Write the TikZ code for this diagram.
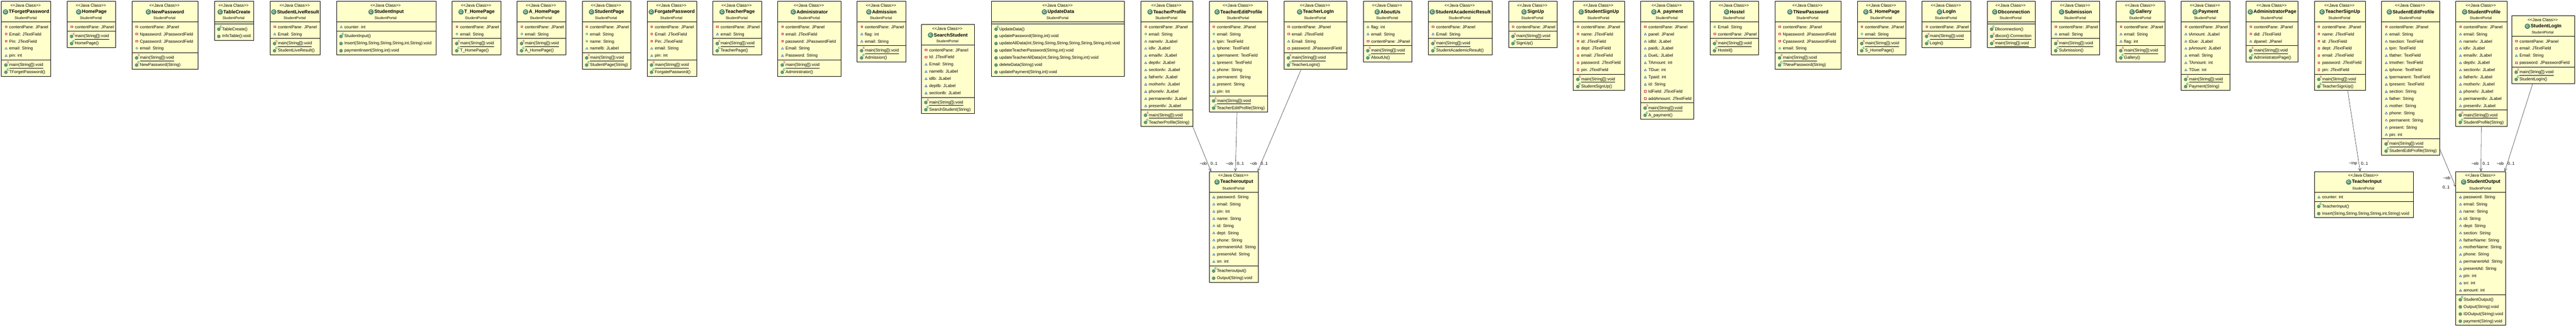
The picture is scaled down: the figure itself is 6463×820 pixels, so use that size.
\documentclass[tikz,border=0pt]{standalone}
\usepackage{fontspec}
\setmainfont{Liberation Sans}
\usetikzlibrary{shapes.geometric, arrows.meta}
\definecolor{boxyellow}{HTML}{FFFFCC}
\definecolor{icongreen}{HTML}{4F9272}
\definecolor{privred}{HTML}{C8294A}
\definecolor{packblue}{HTML}{2060A8}
\definecolor{publgreen}{HTML}{2F8F70}
\definecolor{statred}{HTML}{B8004F}
\definecolor{consgreen}{HTML}{008850}
\tikzstyle{assoc} = [draw=black!85, line width=0.7pt, -{Straight Barb[length=7.5pt,width=6.5pt]}]
\tikzstyle{classbox} = [rectangle, draw=black, line width=1pt, fill=boxyellow, anchor=north west, outer sep=0pt, inner sep=0pt]
\tikzstyle{divider} = [draw=black, line width=1pt]
\tikzstyle{stereo} = [font=\fontsize{10.5}{12}\selectfont, inner sep=0pt]
\tikzstyle{pkgname} = [font=\fontsize{9.1}{11}\selectfont, inner sep=0pt]
\tikzstyle{classtitle} = [font=\bfseries\fontsize{12}{14}\selectfont, inner sep=0pt]
\tikzstyle{classicon} = [circle, draw=icongreen!70!black, fill=icongreen, text=white, font=\bfseries\fontsize{9}{9}\selectfont, minimum size=13pt, inner sep=0pt]
\tikzstyle{rowlabel} = [font=\fontsize{10.5}{12}\selectfont, anchor=west, inner sep=0pt, text height=12pt, text depth=4pt]
\tikzstyle{edgelabel} = [font=\fontsize{10.5}{12}\selectfont, inner sep=0pt]
\tikzstyle{priv} = [rectangle, draw=privred, fill=white, line width=1pt, minimum size=4.5pt, inner sep=0pt]
\tikzstyle{pack} = [regular polygon, regular polygon sides=3, draw=packblue, fill=white, line width=0.9pt, minimum size=6.4pt, inner sep=0pt, yshift=-1pt]
\tikzstyle{publ} = [circle, draw=publgreen, fill=white, line width=1pt, minimum size=5pt, inner sep=0pt]
\tikzstyle{meth} = [circle, draw=icongreen!70!black, fill=icongreen!90, line width=0.4pt, minimum size=8pt, inner sep=0pt]
\tikzstyle{stat} = [meth, label={[text=statred, font=\itshape\fontsize{8}{8}\selectfont, inner sep=0pt, xshift=5pt, yshift=6pt]center:S}]
\tikzstyle{cons} = [meth, label={[text=consgreen, font=\bfseries\fontsize{8}{8}\selectfont, inner sep=0pt, xshift=5pt, yshift=6pt]center:C}]
\tikzstyle{stat label} = [append after command={(\tikzlastnode.south west) edge [draw=black, line width=0.8pt] (\tikzlastnode.south east)}]
\tikzstyle{cons label} = []
\tikzstyle{meth label} = []
% name, title, left, top, width, attribute count, method count, attributes, methods
\newcommand{\umlclass}[9]{%
	\pgfmathsetmacro{\methoff}{52+18*#6+5}
	\pgfmathsetmacro{\boxh}{\methoff+18*#7+5}
	\node (#1) [classbox, minimum width=#5pt, minimum height=\boxh pt] at (#3,-#4) {};
	\node (#1-stereo) [stereo] at ([xshift=-1.3pt,yshift=-10pt]#1.north) {<{}<Java Class>{}>};
	\node (#1-title) [classtitle] at ([xshift=7.2pt,yshift=-26.7pt]#1.north) {#2};
	\node (#1-icon) [classicon] at ([xshift=-8pt]#1-title.west) {C};
	\node (#1-pkg) [pkgname] at ([xshift=-1.3pt,yshift=-42.4pt]#1.north) {StudentPortal};
	\draw [divider] ([yshift=-52pt]#1.north west) -- ([yshift=-52pt]#1.north east);
	\draw [divider] ([yshift=-\methoff pt]#1.north west) -- ([yshift=-\methoff pt]#1.north east);
	\ifnum#6>0
	\foreach \kind/\rowtext [count=\n] in {#8} {
		\pgfmathsetmacro{\rowy}{52+12+18*(\n-1)}
		\node (#1-a\n) [rowlabel] at ([xshift=19.4pt,yshift=-\rowy pt]#1.north west) {\rowtext};
		\node (#1-am\n) [\kind] at ([xshift=11.7pt,yshift=-\rowy pt]#1.north west) {};
	}
	\fi
	\foreach \kind/\rowtext [count=\n] in {#9} {
		\pgfmathsetmacro{\rowy}{\methoff+12+18*(\n-1)}
		\node (#1-m\n) [rowlabel, \kind\space label] at ([xshift=19.4pt,yshift=-\rowy pt]#1.north west) {\rowtext};
		\node (#1-mm\n) [\kind] at ([xshift=11.2pt,yshift=-\rowy pt-1pt]#1.north west) {};
	}
}
\begin{document}
\begin{tikzpicture}[x=1pt, y=1pt]
	\useasboundingbox (0,0) rectangle (6463,-820);
	\umlclass{TForgetPassword}{TForgetPassword}{3.6}{3.3}{124}{5}{2}{priv/contentPane: JPanel, priv/Email: JTextField, priv/Pin: JTextField, pack/email: String, pack/pin: int}{stat/main(String[]):void, cons/TForgetPassword()}
	\umlclass{HomePage}{HomePage}{168.4}{3.3}{122}{1}{2}{priv/contentPane: JPanel}{stat/main(String[]):void, cons/HomePage()}
	\umlclass{NewPassword}{NewPassword}{331.6}{3.3}{164.8}{4}{2}{priv/contentPane: JPanel, priv/Npassword: JPasswordField, priv/Cpassword: JPasswordField, publ/email: String}{stat/main(String[]):void, cons/NewPassword(String)}
	\umlclass{TableCreate}{TableCreate}{537.8}{3.3}{99}{0}{2}{}{cons/TableCreate(), meth/InfoTable():void}
	\umlclass{StudentLiveResult}{StudentLiveResult}{677.6}{3.3}{126}{2}{2}{priv/contentPane: JPanel, pack/Email: String}{stat/main(String[]):void, cons/StudentLiveResult()}
	\umlclass{StudentInput}{StudentInput}{844.4}{3.3}{249}{1}{3}{pack/counter: int}{cons/StudentInput(), meth/{Insert(String,String,String,String,int,String):void}, meth/{paymentInsert(String,int):void}}
	\umlclass{THomePage}{T\_HomePage}{1134.7}{3.3}{122}{2}{2}{priv/contentPane: JPanel, publ/email: String}{stat/main(String[]):void, cons/T\_HomePage()}
	\umlclass{AHomePage}{A\_HomePage}{1297.4}{3.3}{122}{2}{2}{priv/contentPane: JPanel, publ/email: String}{stat/main(String[]):void, cons/A\_HomePage()}
	\umlclass{StudentPage}{StudentPage}{1460.7}{3.3}{122}{4}{2}{priv/contentPane: JPanel, publ/email: String, publ/name: String, pack/namelb: JLabel}{stat/main(String[]):void, cons/StudentPage(String)}
	\umlclass{ForgatePassword}{ForgatePassword}{1623.5}{3.3}{124}{5}{2}{priv/contentPane: JPanel, priv/Email: JTextField, priv/Pin: JTextField, pack/email: String, pack/pin: int}{stat/main(String[]):void, cons/ForgatePassword()}
	\umlclass{TeacherPage}{TeacherPage}{1788.3}{3.3}{122.4}{2}{2}{priv/contentPane: JPanel, pack/email: String}{stat/main(String[]):void, cons/TeacherPage()}
	\umlclass{Administrator}{Administrator}{1951.5}{3.3}{158.2}{5}{2}{priv/contentPane: JPanel, priv/email: JTextField, priv/password: JPasswordField, pack/Email: String, pack/Password: String}{stat/main(String[]):void, cons/Administrator()}
	\umlclass{Admission}{Admission}{2150.5}{3.3}{122}{3}{2}{priv/contentPane: JPanel, pack/flag: int, pack/email: String}{stat/main(String[]):void, cons/Admission()}
	\umlclass{SearchStudent}{SearchStudent}{2311.7}{61.3}{132.7}{7}{2}{priv/contentPane: JPanel, priv/Id: JTextField, pack/Email: String, pack/namelb: JLabel, pack/idlb: JLabel, pack/deptlb: JLabel, pack/sectionlb: JLabel}{stat/main(String[]):void, cons/SearchStudent(String)}
	\umlclass{UpdateData}{UpdateData}{2487.8}{3.3}{333.6}{0}{7}{}{cons/UpdateData(), meth/{updatePassword(String,int):void}, meth/{updateAllData(int,String,String,String,String,String,String,int):void}, meth/{updateTeacherPassword(String,int):void}, meth/{updateTeacherAllData(int,String,String,String,int):void}, meth/deleteData(String):void, meth/{updatePayment(String,int):void}}
	\umlclass{TeacherProfile}{TeacherProfile}{2862.8}{3.3}{129.5}{12}{2}{priv/contentPane: JPanel, publ/email: String, pack/namelv: JLabel, pack/idlv: JLabel, pack/emaillv: JLabel, pack/deptlv: JLabel, pack/sectionlv: JLabel, pack/fatherlv: JLabel, pack/motherlv: JLabel, pack/phonelv: JLabel, pack/permanentlv: JLabel, pack/presentlv: JLabel}{stat/main(String[]):void, cons/TeacherProfile(String)}
	\umlclass{TeacherEditProfile}{TeacherEditProfile}{3033.7}{3.3}{146.9}{10}{2}{priv/contentPane: JPanel, publ/email: String, pack/tpin: TextField, pack/tphone: TextField, pack/tpermanent: TextField, pack/tpresent: TextField, pack/phone: String, pack/permanent: String, pack/present: String, pack/pin: int}{stat/main(String[]):void, cons/TeacherEditProfile(String)}
	\umlclass{TeacherLogIn}{TeacherLogIn}{3221.4}{3.3}{158.2}{4}{2}{priv/contentPane: JPanel, priv/email: JTextField, pack/Email: String, priv/password: JPasswordField}{stat/main(String[]):void, cons/TeacherLogIn()}
	\umlclass{AboutUs}{AboutUs}{3420.4}{3.3}{122}{3}{2}{pack/flag: int, pack/email: String, priv/contentPane: JPanel}{stat/main(String[]):void, cons/AboutUs()}
	\umlclass{StudentAcademicResult}{StudentAcademicResult}{3583.7}{3.3}{159.7}{2}{2}{priv/contentPane: JPanel, pack/Email: String}{stat/main(String[]):void, cons/StudentAcademicResult()}
	\umlclass{SignUp}{SignUp}{3784.7}{3.3}{122}{1}{2}{priv/contentPane: JPanel}{stat/main(String[]):void, cons/SignUp()}
	\umlclass{StudentSignUp}{StudentSignUp}{3947.4}{3.3}{128}{7}{2}{priv/contentPane: JPanel, priv/name: JTextField, priv/id: JTextField, priv/dept: JTextField, priv/email: JTextField, priv/password: JTextField, priv/pin: JTextField}{stat/main(String[]):void, cons/StudentSignUp()}
	\umlclass{Apayment}{A\_payment}{4116.3}{3.3}{133.2}{11}{2}{priv/contentPane: JPanel, pack/panel: JPanel, pack/idlbl: JLabel, pack/paidL: JLabel, pack/DueL: JLabel, pack/TAmount: int, pack/TDue: int, pack/Tpaid: int, pack/id: String, priv/IdField: JTextField, priv/addAmount: JTextField}{stat/main(String[]):void, cons/A\_payment()}
	\umlclass{Hostel}{Hostel}{4290.3}{3.3}{122}{2}{2}{publ/Email: String, priv/contentPane: JPanel}{stat/main(String[]):void, cons/Hostel()}
	\umlclass{TNewPassword}{TNewPassword}{4453.6}{3.3}{164.8}{4}{2}{priv/contentPane: JPanel, priv/Npassword: JPasswordField, priv/Cpassword: JPasswordField, publ/email: String}{stat/main(String[]):void, cons/TNewPassword(String)}
	\umlclass{SHomePage}{S\_HomePage}{4659.7}{3.3}{122}{2}{2}{priv/contentPane: JPanel, publ/email: String}{stat/main(String[]):void, cons/S\_HomePage()}
	\umlclass{LogIn}{LogIn}{4822.4}{3.3}{122}{1}{2}{priv/contentPane: JPanel}{stat/main(String[]):void, cons/LogIn()}
	\umlclass{Dbconnection}{Dbconnection}{4985.7}{3.3}{120}{0}{3}{}{cons/Dbconnection(), stat/dbcon():Connection, stat/main(String[]):void}
	\umlclass{Submission}{Submission}{5146.4}{3.3}{122}{2}{2}{priv/contentPane: JPanel, pack/email: String}{stat/main(String[]):void, cons/Submission()}
	\umlclass{Gallery}{Gallery}{5309.7}{3.3}{122}{3}{2}{priv/contentPane: JPanel, pack/email: String, pack/flag: int}{stat/main(String[]):void, cons/Gallery()}
	\umlclass{Payment}{Payment}{5472.4}{3.3}{122}{7}{2}{priv/contentPane: JPanel, pack/tAmount: JLabel, pack/tDue: JLabel, pack/pAmount: JLabel, pack/email: String, pack/TAmount: int, pack/TDue: int}{stat/main(String[]):void, cons/Payment(String)}
	\umlclass{AdministratorPage}{AdministratorPage}{5635.2}{3.3}{130.5}{3}{2}{priv/contentPane: JPanel, priv/did: JTextField, pack/dpanel: JPanel}{stat/main(String[]):void, cons/AdministratorPage()}
	\umlclass{TeacherSignUp}{TeacherSignUp}{5806.4}{3.3}{128.2}{7}{2}{priv/contentPane: JPanel, priv/name: JTextField, priv/id: JTextField, priv/dept: JTextField, priv/email: JTextField, priv/password: JTextField, priv/pin: JTextField}{stat/main(String[]):void, cons/TeacherSignUp()}
	\umlclass{StudentEditProfile}{StudentEditProfile}{5975.3}{3.3}{145.3}{16}{2}{priv/contentPane: JPanel, pack/email: String, pack/tsection: TextField, pack/tpin: TextField, pack/tfather: TextField, pack/tmother: TextField, pack/tphone: TextField, pack/tpermanent: TextField, pack/tpresent: TextField, pack/section: String, pack/father: String, pack/mother: String, pack/phone: String, pack/permanent: String, pack/present: String, pack/pin: int}{stat/main(String[]):void, cons/StudentEditProfile(String)}
	\umlclass{StudentProfile}{StudentProfile}{6161.4}{3.3}{128.2}{12}{2}{priv/contentPane: JPanel, pack/email: String, pack/namelv: JLabel, pack/idlv: JLabel, pack/emaillv: JLabel, pack/deptlv: JLabel, pack/sectionlv: JLabel, pack/fatherlv: JLabel, pack/motherlv: JLabel, pack/phonelv: JLabel, pack/permanentlv: JLabel, pack/presentlv: JLabel}{stat/main(String[]):void, cons/StudentProfile(String)}
	\umlclass{StudentLogIn}{StudentLogIn}{6301.7}{39.3}{157.9}{4}{2}{priv/contentPane: JPanel, priv/email: JTextField, pack/Email: String, priv/password: JPasswordField}{stat/main(String[]):void, cons/StudentLogIn()}
	\umlclass{Teacheroutput}{Teacheroutput}{3033.7}{430.3}{123.9}{10}{2}{pack/password: String, pack/email: String, pack/pin: int, pack/name: String, pack/id: String, pack/dept: String, pack/phone: String, pack/permanentAd: String, pack/presentAd: String, pack/sn: int}{cons/Teacheroutput(), meth/Output(String):void}
	\umlclass{TeacherInput}{TeacherInput}{5806.3}{430.3}{249}{1}{2}{pack/counter: int}{cons/TeacherInput(), meth/{Insert(String,String,String,String,int,String):void}}
	\umlclass{StudentOutput}{StudentOutput}{6161.5}{430.3}{125.2}{14}{4}{pack/password: String, pack/email: String, pack/name: String, pack/id: String, pack/dept: String, pack/section: String, pack/fatherName: String, pack/motherName: String, pack/phone: String, pack/permanentAd: String, pack/presentAd: String, pack/pin: int, pack/sn: int, pack/amount: int}{cons/StudentOutput(), meth/Output(String):void, meth/IDOutput(String):void, meth/payment(String):void}
	\draw [assoc] (TeacherProfile.south east) -- ([xshift=-57.35pt]Teacheroutput.north);
	\draw [assoc] ([xshift=-3.55pt]TeacherEditProfile.south) -- ([xshift=3.85pt]Teacheroutput.north);
	\draw [assoc] ([xshift=43.4pt]TeacherLogIn.south west) -- ([xshift=59.45pt]Teacheroutput.north);
	\draw [assoc] ([xshift=19.5pt]TeacherSignUp.south) -- ([xshift=-9.4pt]TeacherInput.north);
	\draw [assoc] ([yshift=16.6pt]StudentEditProfile.south east) -- ([yshift=-39.7pt]StudentOutput.north west);
	\draw [assoc] (StudentProfile.south) -- ([xshift=0.4pt]StudentOutput.north);
	\draw [assoc] ([xshift=-26.15pt]StudentLogIn.south) -- ([xshift=60pt]StudentOutput.north);
	\node (ob1) [edgelabel] at (3018.9,-410.3) {\textasciitilde ob};
	\node (mult1) [edgelabel] at (3045.9,-411) {0..1};
	\node (ob2) [edgelabel] at (3084.7,-410.3) {\textasciitilde ob};
	\node (mult2) [edgelabel] at (3112.2,-411) {0..1};
	\node (ob3) [edgelabel] at (3144.9,-410.3) {\textasciitilde ob};
	\node (mult3) [edgelabel] at (3171.9,-411) {0..1};
	\node (inp4) [edgelabel] at (5903.6,-410.3) {\textasciitilde inp};
	\node (mult4) [edgelabel] at (5932.3,-411) {0..1};
	\node (ob5) [edgelabel] at (6138.7,-447.3) {\textasciitilde ob};
	\node (mult5) [edgelabel] at (6137,-470.3) {0..1};
	\node (ob6) [edgelabel] at (6209.7,-410.3) {\textasciitilde ob};
	\node (mult6) [edgelabel] at (6237.2,-411) {0..1};
	\node (ob7) [edgelabel] at (6272.7,-410.3) {\textasciitilde ob};
	\node (mult7) [edgelabel] at (6300.2,-411) {0..1};
\end{tikzpicture}
\end{document}
